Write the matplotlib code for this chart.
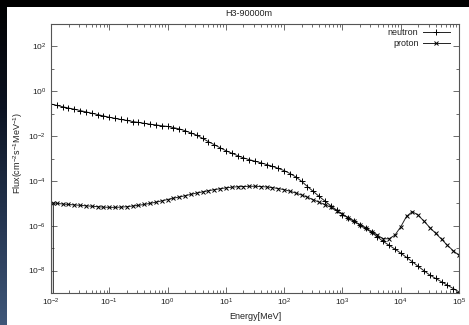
#!/usr/bin/env python3
"""
H3-90000m flux spectrum (neutron / proton), gnuplot-style log-log chart.
"""

import numpy as np
import matplotlib
matplotlib.use("Agg")
import matplotlib.pyplot as plt
from matplotlib.patches import Rectangle
from matplotlib.ticker import FixedLocator, LogFormatterMathtext, LogLocator, NullFormatter

plt.rcParams["font.family"] = ["Liberation Sans", "DejaVu Sans"]
plt.rcParams["mathtext.default"] = "regular"
plt.rcParams["axes.unicode_minus"] = False

TITLE = "H3-90000m"
X_LABEL = "Energy[MeV]"
Y_LABEL = "Flux(cm$^{-2}$s$^{-1}$MeV$^{-1}$)"
SERIES_NAMES = ["neutron", "proton"]

# log10(Energy / MeV)
neutron_log_e = [
    -2.0, -1.9, -1.8, -1.7, -1.6, -1.5, -1.4, -1.3, -1.2, -1.1,
    -1.0, -0.9, -0.8, -0.7, -0.6, -0.5, -0.4, -0.3, -0.2, -0.1,
    0.0, 0.1, 0.2, 0.3, 0.4, 0.5, 0.6, 0.7, 0.8, 0.9,
    1.0, 1.1, 1.2, 1.3, 1.4, 1.5, 1.6, 1.7, 1.8, 1.9,
    2.0, 2.1, 2.2, 2.3, 2.4, 2.5, 2.6, 2.7, 2.8, 2.9,
    3.0, 3.1, 3.2, 3.3, 3.4, 3.5, 3.6, 3.7, 3.8, 3.9,
    4.0, 4.1, 4.2, 4.3, 4.4, 4.5, 4.6, 4.7, 4.8, 4.9, 5.0,
]
# log10(Flux)
neutron_log_flux = [
    -0.57, -0.63, -0.69, -0.75, -0.80, -0.86, -0.92, -0.98, -1.04, -1.10,
    -1.16, -1.21, -1.26, -1.30, -1.35, -1.39, -1.43, -1.47, -1.50, -1.54,
    -1.57, -1.62, -1.68, -1.76, -1.86, -1.96, -2.10, -2.25, -2.38, -2.52,
    -2.65, -2.76, -2.87, -2.97, -3.05, -3.12, -3.19, -3.27, -3.35, -3.44,
    -3.54, -3.67, -3.82, -4.02, -4.25, -4.47, -4.69, -4.90, -5.11, -5.30,
    -5.50, -5.65, -5.81, -5.96, -6.12, -6.30, -6.50, -6.70, -6.87, -7.04,
    -7.22, -7.41, -7.61, -7.81, -8.01, -8.20, -8.35, -8.50, -8.65, -8.80, -8.95,
]

proton_log_e = [
    -1.96, -1.96, -1.9, -1.8, -1.7, -1.6, -1.5, -1.4, -1.3, -1.2, -1.1,
    -1.0, -0.9, -0.8, -0.7, -0.6, -0.5, -0.4, -0.3, -0.2, -0.1,
    0.0, 0.1, 0.2, 0.3, 0.4, 0.5, 0.6, 0.7, 0.8, 0.9,
    1.0, 1.1, 1.2, 1.3, 1.4, 1.5, 1.6, 1.7, 1.8, 1.9,
    2.0, 2.1, 2.2, 2.3, 2.4, 2.5, 2.6, 2.7, 2.8, 2.9,
    3.0, 3.1, 3.2, 3.3, 3.4, 3.5, 3.6, 3.7, 3.8, 3.9,
    4.0, 4.1, 4.2, 4.3, 4.4, 4.5, 4.6, 4.7, 4.8, 4.9, 5.0,
]
proton_log_flux = [
    -12.0, -4.98, -5.00, -5.03, -5.05, -5.07, -5.09, -5.11, -5.13, -5.15, -5.17,
    -5.18, -5.18, -5.17, -5.15, -5.12, -5.09, -5.05, -5.00, -4.95, -4.89,
    -4.83, -4.77, -4.72, -4.66, -4.60, -4.54, -4.49, -4.44, -4.39, -4.35,
    -4.31, -4.28, -4.26, -4.25, -4.24, -4.24, -4.25, -4.27, -4.30, -4.34,
    -4.39, -4.46, -4.54, -4.63, -4.73, -4.84, -4.95, -5.06, -5.17, -5.32,
    -5.48, -5.64, -5.80, -5.95, -6.10, -6.26, -6.42, -6.58, -6.58, -6.42,
    -6.05, -5.58, -5.37, -5.53, -5.80, -6.08, -6.34, -6.60, -6.87, -7.11, -7.32,
]

Y_MAJOR = [1e-8, 1e-6, 1e-4, 1e-2, 1e0, 1e2]
Y_MINOR = [1e-7, 1e-5, 1e-3, 1e-1, 1e1]


def main():
    W, H = 469, 325
    fig = plt.figure(figsize=(W / 100, H / 100), dpi=100, facecolor="black")

    # slide-like backdrop: black band on top, dark blue strip on the left, white page
    bg = fig.add_axes([0, 0, 1, 1], zorder=-10)
    bg.set_xlim(0, W)
    bg.set_ylim(H, 0)
    bg.axis("off")
    grad = np.linspace(0, 1, 256).reshape(-1, 1)
    cmap = matplotlib.colors.LinearSegmentedColormap.from_list(
        "strip", ["#000000", "#0c1322", "#24344f", "#3f5779"]
    )
    bg.imshow(grad, extent=(0, 6.5, H, 0), aspect="auto", cmap=cmap)
    bg.add_patch(Rectangle((6.5, 6.5), W - 6.5, H - 6.5, facecolor="white", edgecolor="none"))

    ax = fig.add_axes([51 / W, 1 - 293 / H, 408 / W, 269 / H])
    ax.set_facecolor("white")

    ax.plot(
        np.power(10.0, neutron_log_e), np.power(10.0, neutron_log_flux),
        color="#222222", lw=0.7, marker="+", ms=4.5, mew=0.7, mec="black",
        label=SERIES_NAMES[0],
    )
    ax.plot(
        np.power(10.0, proton_log_e), np.power(10.0, proton_log_flux),
        color="#222222", lw=0.7, marker="x", ms=3.2, mew=0.7, mec="black",
        label=SERIES_NAMES[1],
    )

    ax.set_xscale("log")
    ax.set_yscale("log")
    ax.set_xlim(1e-2, 1e5)
    ax.set_ylim(1e-9, 1e3)

    ax.xaxis.set_major_locator(LogLocator(base=10, numticks=20))
    ax.xaxis.set_minor_locator(LogLocator(base=10, subs=np.arange(2, 10), numticks=20))
    ax.xaxis.set_minor_formatter(NullFormatter())
    ax.yaxis.set_major_locator(FixedLocator(Y_MAJOR))
    ax.yaxis.set_minor_locator(FixedLocator(Y_MINOR))
    ax.yaxis.set_major_formatter(LogFormatterMathtext())
    ax.yaxis.set_minor_formatter(NullFormatter())

    for s in ax.spines.values():
        s.set_color("#555555")
        s.set_linewidth(0.8)
    ax.tick_params(which="both", direction="in", top=True, right=True,
                   color="#555555", width=0.6, labelsize=6, labelcolor="#222222")
    ax.tick_params(which="major", length=4)
    ax.tick_params(which="minor", length=2)
    ax.tick_params(axis="x", pad=2.5)
    ax.tick_params(axis="y", pad=3.5)

    ax.set_xlabel(X_LABEL, fontsize=6.5, color="#222222", labelpad=3)
    ax.set_ylabel(Y_LABEL, fontsize=6.5, color="#222222")
    ax.yaxis.set_label_coords(-33 / 408, 0.52)
    ax.yaxis.label.set_verticalalignment("center")
    fig.text(249 / W, 1 - 13 / H, TITLE, ha="center", va="center", fontsize=6.5, color="#222222")

    leg = ax.legend(
        loc="upper right", bbox_to_anchor=(0.978, 0.985), frameon=False,
        markerfirst=False, fontsize=6.5, handlelength=3.0, handletextpad=0.5,
        labelspacing=0.2, borderpad=0, borderaxespad=0,
    )
    for t in leg.get_texts():
        t.set_color("#222222")

    fig.savefig("out.png", dpi=100, facecolor="black")
    plt.close("all")


if __name__ == "__main__":
    main()
